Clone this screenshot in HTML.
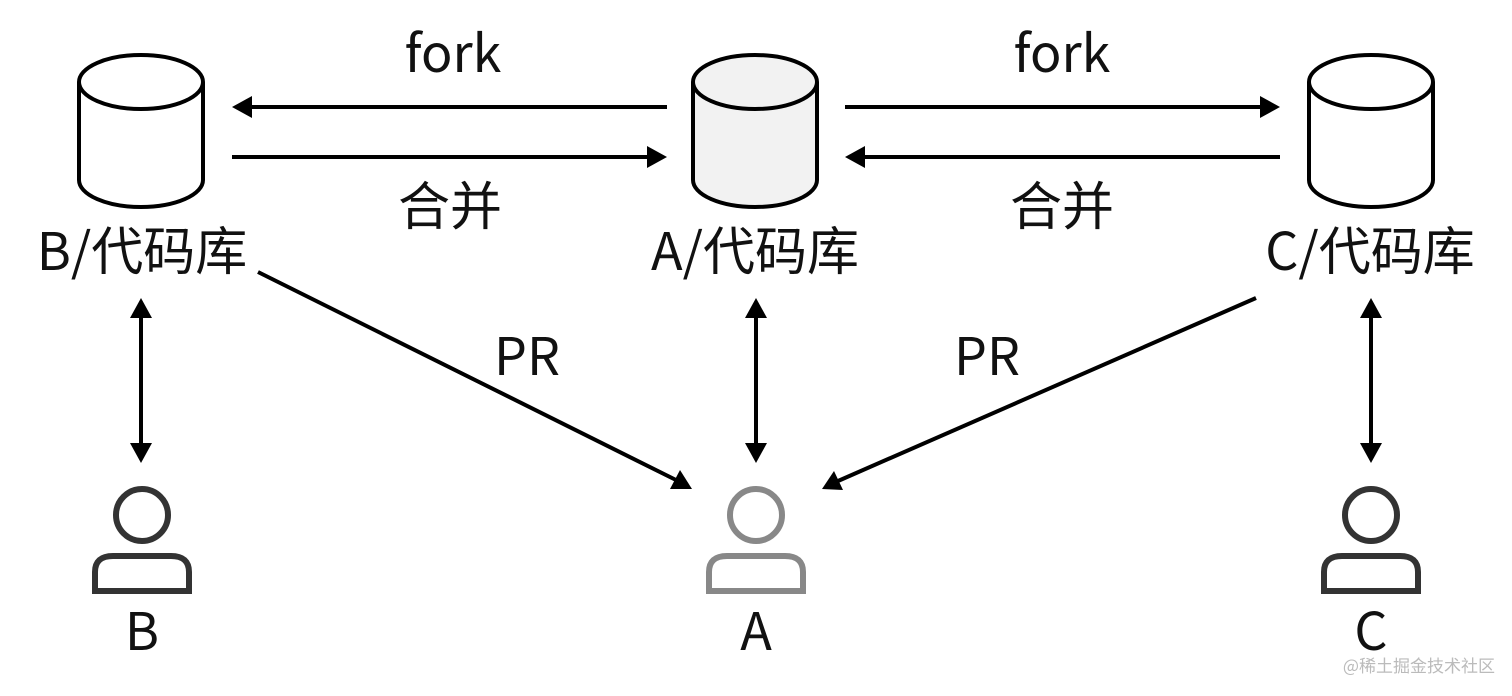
<!DOCTYPE html>
<html><head><meta charset="utf-8"><style>
body{margin:0;background:#fff;width:1512px;height:696px;overflow:hidden}
svg{display:block}
text{font-family:"Noto Sans CJK SC","Liberation Sans",sans-serif;fill:#111}
</style></head><body>
<svg width="1512" height="696" viewBox="0 0 1512 696">
<g stroke="#000" stroke-width="4" fill="#fff">
 <path d="M79 82 V180 A62 27 0 0 0 203 180 V82"/>
 <ellipse cx="141" cy="82" rx="62" ry="27"/>
 <path d="M693 82 V180 A62 27 0 0 0 817 180 V82" fill="#f2f2f2"/>
 <ellipse cx="755" cy="82" rx="62" ry="27" fill="#f2f2f2"/>
 <path d="M1309 82 V180 A62 27 0 0 0 1433 180 V82"/>
 <ellipse cx="1371" cy="82" rx="62" ry="27"/>
</g>
<g stroke="#000" stroke-width="4" fill="none">
 <line x1="667" y1="107" x2="250" y2="107"/>
 <line x1="232" y1="157" x2="650" y2="157"/>
 <line x1="845" y1="107" x2="1262" y2="107"/>
 <line x1="1280" y1="157" x2="863" y2="157"/>
 <line x1="141" y1="318" x2="141" y2="444"/>
 <line x1="756" y1="318" x2="756" y2="444"/>
 <line x1="1371" y1="318" x2="1371" y2="444"/>
 <line x1="258" y1="272" x2="676" y2="480"/>
 <line x1="1256" y1="298" x2="838" y2="481"/>
</g>
<g fill="#000">
 <polygon points="232,107 252,96 252,118"/>
 <polygon points="667,157 647,146 647,168"/>
 <polygon points="1280,107 1260,96 1260,118"/>
 <polygon points="845,157 865,146 865,168"/>
 <polygon points="141,298 130,318 152,318"/>
 <polygon points="141,463 130,443 152,443"/>
 <polygon points="756,298 745,318 767,318"/>
 <polygon points="756,463 745,443 767,443"/>
 <polygon points="1371,298 1360,318 1382,318"/>
 <polygon points="1371,463 1360,443 1382,443"/>
 <polygon points="692,489 670,489 680,470"/>
 <polygon points="822,489 834,471 843,490"/>
</g>
<g stroke-width="6" fill="none">
 <g stroke="#333"><circle cx="142" cy="515" r="26"/><path d="M95 591 V572 Q95 556 113 556 H171 Q189 556 189 572 V591 Z"/></g>
 <g stroke="#888"><circle cx="756" cy="515" r="26"/><path d="M709 591 V572 Q709 556 727 556 H785 Q803 556 803 572 V591 Z"/></g>
 <g stroke="#333"><circle cx="1371" cy="515" r="26"/><path d="M1324 591 V572 Q1324 556 1342 556 H1400 Q1418 556 1418 572 V591 Z"/></g>
</g>
<g font-size="52" text-anchor="middle">
 <text x="453" y="72">fork</text>
 <text x="1062" y="72">fork</text>
 <text x="450" y="225">合并</text>
 <text x="1062" y="225">合并</text>
 <text x="142" y="270">B/代码库</text>
 <text x="755" y="270">A/代码库</text>
 <text x="1370" y="270">C/代码库</text>
 <text x="527" y="375">PR</text>
 <text x="987" y="375">PR</text>
 <text x="142" y="650">B</text>
 <text x="756" y="650">A</text>
 <text x="1371" y="650">C</text>
</g>
<text x="1495" y="672" font-size="17" text-anchor="end" style="fill:#bbb">@稀土掘金技术社区</text>
</svg>
</body></html>
